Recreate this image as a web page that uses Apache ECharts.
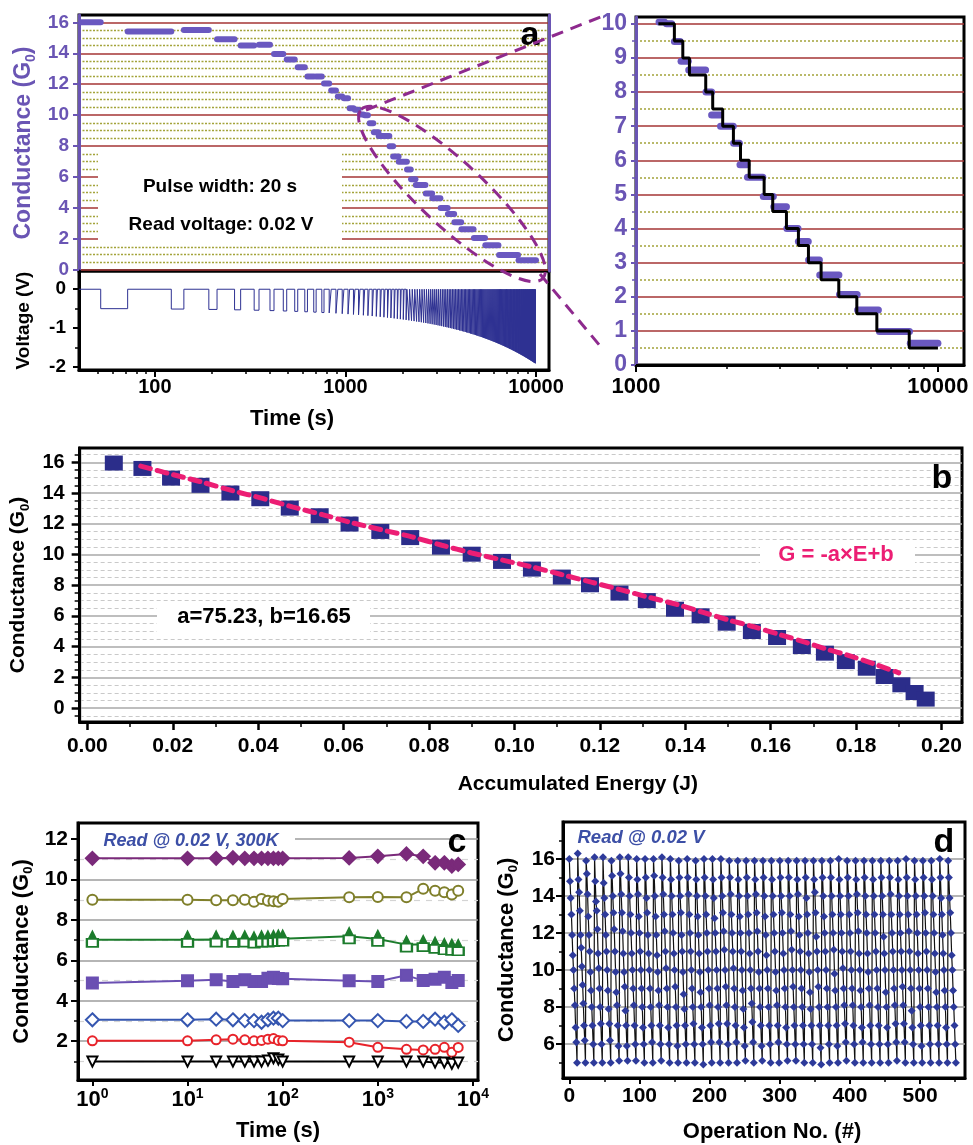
<!DOCTYPE html>
<html>
<head>
<meta charset="utf-8">
<title>Conductance figure</title>
<script src="https://cdn.jsdelivr.net/npm/echarts@6.0.0/dist/echarts.min.js"></script>
<style>
html,body{margin:0;padding:0;background:#ffffff;}
#chart{width:973px;height:1145px;}
</style>
</head>
<body>
<div id="chart"></div>
<script>
// ================= DATA =================
// Panel a: conductance read plateaus (time start, time end, conductance G0)
const aReadStart = [41,72,142,212,282,352,422,492,562,632,702,772,842,912,982,1052,1122,1192,1262,1340,1410,1495,1705,1780,1905,2105,2210,2340,2640,2860,3160,3450,3730,4060,4720,5420,6400,8100];
const aReadEnd   = [52,122,192,262,332,402,472,542,612,682,752,822,892,962,1032,1102,1172,1242,1312,1400,1490,1700,1780,1900,2100,2200,2330,2630,2850,3150,3440,3720,4050,4700,5400,6350,8050,10000];
const aReadG     = [16.0,15.4,15.5,14.9,14.5,14.55,13.95,13.6,13.1,12.5,12.5,12.05,11.6,11.2,11.1,10.45,10.35,10.05,10.0,9.48,8.9,8.65,8.0,7.33,7.0,6.5,5.87,5.5,4.94,4.64,4.0,3.62,3.08,2.64,2.07,1.61,0.98,0.64];

// Panel a (zoom): ideal staircase (time where level starts, level)
const stepT = [1186,1340,1429,1503,1702,1795,1937,2102,2219,2371,2657,2837,3150,3451,3725,4103,4695,5387,6276,8035,10000];
const stepG = [10,9.5,9,8.5,8,7.5,7,6.5,6,5.5,5,4.5,4,3.5,3,2.5,2,1.5,1,0.5,0.5];

// Panel a: voltage pulses (start time s, amplitude V), width 20 s
const pulseWidth = 20;
const pulseStart = [52,122,192,262,332,402,472,542,612,682,752,822,892,962,1032,1102,1172,1242,1312,1382,
1452,1522,1592,1662,1732,1802,1872,1942,2012,2082,2152,2222,2292,2362,2432,2502,2572,2642,2712,2782,
2852,2922,2992,3062,3132,3202,3272,3342,3412,3482,3552,3622,3692,3762,3832,3902,3972,4042,4112,4182,
4252,4322,4392,4462,4532,4602,4672,4742,4812,4882,4952,5022,5092,5162,5232,5302,5372,5442,5512,5582,
5652,5722,5792,5862,5932,6002,6072,6142,6212,6282,6352,6422,6492,6562,6632,6702,6772,6842,6912,6982,
7052,7122,7192,7262,7332,7402,7472,7542,7612,7682,7752,7822,7892,7962,8032,8102,8172,8242,8312,8382,
8452,8522,8592,8662,8732,8802,8872,8942,9012,9082,9152,9222,9292,9362,9432,9502,9572,9642,9712,9782,
9852,9922];
const pulseV = [-0.50,-0.51,-0.52,-0.53,-0.54,-0.55,-0.56,-0.57,-0.58,-0.59,
-0.60,-0.61,-0.62,-0.63,-0.64,-0.65,-0.66,-0.67,-0.68,-0.69,
-0.70,-0.71,-0.72,-0.73,-0.74,-0.75,-0.76,-0.77,-0.78,-0.79,
-0.80,-0.81,-0.82,-0.83,-0.84,-0.85,-0.86,-0.87,-0.88,-0.89,
-0.90,-0.91,-0.92,-0.93,-0.94,-0.95,-0.96,-0.97,-0.98,-0.99,
-1.00,-1.01,-1.02,-1.03,-1.04,-1.05,-1.06,-1.07,-1.08,-1.09,
-1.10,-1.11,-1.12,-1.13,-1.14,-1.15,-1.16,-1.17,-1.18,-1.19,
-1.20,-1.21,-1.22,-1.23,-1.24,-1.25,-1.26,-1.27,-1.28,-1.29,
-1.30,-1.31,-1.32,-1.33,-1.34,-1.35,-1.36,-1.37,-1.38,-1.39,
-1.40,-1.41,-1.42,-1.43,-1.44,-1.45,-1.46,-1.47,-1.48,-1.49,
-1.50,-1.51,-1.52,-1.53,-1.54,-1.55,-1.56,-1.57,-1.58,-1.59,
-1.60,-1.61,-1.62,-1.63,-1.64,-1.65,-1.66,-1.67,-1.68,-1.69,
-1.70,-1.71,-1.72,-1.73,-1.74,-1.75,-1.76,-1.77,-1.78,-1.79,
-1.80,-1.81,-1.82,-1.83,-1.84,-1.85,-1.86,-1.87,-1.88,-1.89,
-1.90,-1.91];

// Panel b: accumulated energy (J) vs conductance (G0)
const bE = [0.0062,0.0129,0.0196,0.0265,0.0335,0.0405,0.0474,0.0544,0.0614,0.0686,0.0756,0.0828,0.0900,0.0971,0.1041,0.1111,0.1177,0.1246,0.1310,0.1376,0.1436,0.1497,0.1556,0.1615,0.1673,0.1727,0.1776,0.1825,0.1867,0.1906,0.1937,0.1963];
const bG = [15.95,15.6,14.97,14.5,14.0,13.63,13.02,12.52,11.98,11.5,11.1,10.48,10.02,9.55,9.05,8.53,8.03,7.49,7.0,6.44,6.01,5.53,4.99,4.6,4.01,3.58,3.03,2.6,2.06,1.52,1.02,0.59];
const fitE = [0.0125,0.020,0.027,0.034,0.041,0.048,0.055,0.0615,0.069,0.076,0.083,0.090,0.097,0.104,0.111,0.118,0.125,0.131,0.138,0.144,0.150,0.156,0.162,0.168,0.173,0.178,0.184,0.190];
const fitG = [15.75,15.2,14.7,14.15,13.65,13.1,12.6,12.1,11.6,11.15,10.6,10.1,9.65,9.2,8.7,8.2,7.7,7.25,6.75,6.25,5.75,5.3,4.8,4.3,3.85,3.45,2.9,2.3];

// Panel c: retention
const cTime = [1,10,20,30,40,50,60,70,80,90,100,500,1000,2000,3000,4000,5000,6000,7000];
const cS1 = [11.05,11.05,11.05,11.08,11.05,11.05,11.05,11.05,11.05,11.05,11.05,11.07,11.15,11.27,11.15,10.83,10.83,10.67,10.75];
const cS2 = [9.0,9.0,8.98,8.98,9.0,8.9,9.04,8.95,8.93,8.9,9.04,9.12,9.14,9.12,9.54,9.45,9.37,9.26,9.45];
const cS3 = [7.02,7.02,7.03,7.02,7.03,6.98,7.03,7.03,7.05,7.07,7.07,7.19,7.06,6.78,6.8,6.72,6.65,6.62,6.6];
const cS4 = [4.88,4.99,5.04,4.96,5.04,4.96,4.96,5.12,5.16,5.1,5.09,4.99,4.96,5.26,5.0,5.07,5.16,4.91,5.0];
const cS5 = [3.06,3.06,3.09,3.06,3.02,3.02,2.94,3.06,3.14,3.14,3.02,3.02,3.02,2.98,2.98,3.09,2.94,3.06,2.78];
const cS6 = [2.02,2.02,2.07,2.1,2.07,2.02,2.04,2.1,2.13,2.04,2.02,1.95,1.7,1.6,1.57,1.6,1.7,1.45,1.69];
const cS7 = [0.99,0.99,0.99,0.99,0.99,0.99,0.99,1.05,1.16,1.1,0.99,0.99,0.99,0.99,0.99,0.94,0.94,0.88,0.94];

// Panel d: endurance cycles (each row = one sweep of 12 reads)
const dCycles = [
[16.0,14.8,13.9,13.0,11.9,10.8,10.0,9.0,8.1,6.9,6.1,5.0],
[16.3,14.9,14.2,13.2,11.9,11.2,10.2,9.2,8.2,7.0,6.2,5.0],
[15.9,15.2,14.1,12.9,11.9,11.0,9.9,8.9,8.0,7.0,6.0,5.0],
[16.1,14.8,13.7,13.2,12.2,10.9,10.1,9.0,8.0,7.1,6.0,5.0],
[16.1,14.7,13.9,13.0,11.9,11.0,10.0,8.9,7.9,7.1,6.2,5.0],
[15.9,15.1,14.0,13.1,12.2,11.0,9.9,8.8,8.1,7.0,5.9,5.1],
[16.1,15.2,14.1,13.1,12.1,10.9,9.9,9.1,7.8,7.0,5.9,5.1],
[16.1,15.0,14.0,13.0,12.0,10.9,10.0,9.0,8.1,7.0,6.0,5.1],
[16.0,14.9,14.1,12.9,12.0,11.0,10.0,9.0,8.0,6.9,6.0,5.0],
[16.0,15.0,13.9,13.1,11.9,10.9,10.0,9.0,8.0,7.0,6.1,5.0],
[16.0,15.1,14.0,12.9,11.9,10.8,9.9,8.9,8.1,7.0,6.0,5.1],
[16.1,15.0,14.1,13.0,12.1,11.0,10.1,9.0,8.0,6.9,6.0,5.0],
[16.0,14.9,14.0,13.0,12.0,10.9,10.0,9.1,8.0,7.0,5.9,5.0],
[15.9,15.0,14.0,13.1,11.9,11.0,9.9,8.7,7.9,7.0,6.0,5.0],
[16.0,15.0,14.1,13.0,12.0,11.0,10.0,9.0,8.0,7.1,6.0,5.0],
[15.9,14.9,14.0,12.9,11.9,10.9,9.9,8.8,8.0,6.9,6.0,4.9],
[16.0,15.0,14.0,13.0,12.0,11.0,10.0,9.0,8.1,7.0,6.1,5.0],
[16.0,14.9,13.9,12.8,12.0,11.0,10.0,9.0,8.0,7.1,6.1,5.0],
[16.0,15.0,14.0,13.1,12.1,11.1,10.0,9.1,8.1,7.1,6.0,5.0],
[15.9,15.0,14.1,13.0,12.0,11.0,10.1,9.0,8.0,7.0,6.1,5.0],
[15.9,14.9,14.0,12.9,12.0,11.0,10.0,8.9,7.9,6.9,5.9,5.1],
[15.9,15.0,14.0,13.0,12.0,10.9,10.0,9.0,8.2,7.2,6.1,5.0],
[15.9,14.9,14.1,13.1,12.1,11.0,9.9,9.0,8.0,7.0,5.9,5.1],
[15.9,15.0,14.0,12.9,11.9,10.8,10.0,9.0,8.0,7.0,6.0,5.0],
[15.9,14.9,14.0,13.0,12.0,11.0,9.9,8.9,8.1,7.0,6.1,5.0],
[15.9,15.0,14.0,13.1,12.0,10.9,10.0,9.0,8.0,6.9,6.0,5.1],
[15.9,15.0,14.0,13.0,12.1,11.1,10.0,9.1,8.0,7.0,6.0,5.1],
[15.9,14.9,14.1,12.9,11.9,11.0,10.0,9.0,8.0,7.0,6.0,5.0],
[15.9,15.0,13.9,13.0,12.0,10.9,9.9,8.8,7.9,7.0,6.0,5.0],
[15.9,14.9,14.2,13.1,11.8,11.0,10.0,9.1,8.0,7.0,5.8,4.9],
[15.9,15.0,14.0,12.9,12.0,11.0,10.0,9.0,8.0,7.0,6.0,5.0],
[15.9,15.0,14.0,13.0,12.0,11.1,9.8,8.9,8.0,7.0,5.9,5.0],
[16.0,14.9,14.0,13.0,12.0,11.0,10.1,9.0,8.1,7.1,6.1,5.1],
[15.9,15.0,14.0,13.0,12.0,11.0,10.0,9.0,8.1,7.0,6.0,5.0],
[15.9,14.9,14.1,13.1,12.1,10.9,10.0,8.9,8.0,6.9,6.1,5.0],
[15.9,15.0,14.0,13.0,12.0,10.9,9.9,9.0,8.1,7.0,6.0,5.0],
[15.9,14.9,14.0,13.0,12.0,11.0,10.0,9.0,8.0,7.0,6.0,5.0],
[15.9,15.0,14.0,13.0,11.8,10.9,10.0,8.8,8.0,6.9,6.0,5.0],
[15.9,15.0,14.1,13.0,12.0,11.0,10.0,9.0,8.1,7.1,6.1,5.1],
[15.9,14.9,14.0,13.0,12.0,11.0,10.0,9.1,8.1,7.1,6.1,5.0],
[16.0,15.0,14.0,13.0,12.1,11.0,10.0,9.0,7.8,6.9,6.0,5.0],
[15.9,14.9,14.0,13.0,12.0,10.9,10.0,9.0,8.0,7.0,5.9,5.0],
[15.9,15.0,14.0,13.1,12.0,11.0,10.0,9.0,8.0,7.0,6.0,5.0],
[15.9,14.9,14.0,13.0,12.0,10.9,9.9,8.8,8.0,7.0,6.0,5.0],
[16.0,15.0,13.9,13.0,11.9,10.9,10.0,8.9,8.0,6.9,6.0,5.0],
[15.9,15.0,13.9,13.1,12.0,10.8,10.0,8.9,8.0,7.0,6.0,5.0]
];

// Tick label values
const aTimeTicks = [100,1000,10000];
const aTimeMinor = [50,60,70,80,90,200,300,400,500,600,700,800,900,2000,3000,4000,5000,6000,7000,8000,9000];
const aCondTicks = [0,2,4,6,8,10,12,14,16];
const aCondMinor = [0.5,1,1.5,2.5,3,3.5,4.5,5,5.5,6.5,7,7.5,8.5,9,9.5,10.5,11,11.5,12.5,13,13.5,14.5,15,15.5];
const aVoltTicks = [-2,-1,0];
const aVoltMinor = [-1.5,-0.5];
const zTimeTicks = [1000,10000];
const zTimeMinor = [2000,3000,4000,5000,6000,7000,8000,9000];
const zCondTicks = [0,1,2,3,4,5,6,7,8,9,10];
const zCondMinor = [0.5,1.5,2.5,3.5,4.5,5.5,6.5,7.5,8.5,9.5];
const bETicks = [0,0.02,0.04,0.06,0.08,0.10,0.12,0.14,0.16,0.18,0.20];
const bEMinor = [0.01,0.03,0.05,0.07,0.09,0.11,0.13,0.15,0.17,0.19];
const bGTicks = [0,2,4,6,8,10,12,14,16];
const bGMinor = [-0.5,0.5,1,1.5,2.5,3,3.5,4.5,5,5.5,6.5,7,7.5,8.5,9,9.5,10.5,11,11.5,12.5,13,13.5,14.5,15,15.5,16.5];
const cTimeTicks = [1,10,100,1000,10000];
const cGTicks = [2,4,6,8,10,12];
const cGMinor = [1,3,5,7,9,11];
const dOpTicks = [0,100,200,300,400,500];
const dOpMinor = [50,150,250,350,450,550];
const dGTicks = [6,8,10,12,14,16];
const dGMinor = [5,7,9,11,13,15,17];

// ================= BUILD =================
const FONT = 'Liberation Sans';
const PURPLE = '#6a55b4';
const DOT = '#6a58c0';
const RED = '#a53535';
const OLIVE = '#a3a33a';

const aReads = aReadStart.map((s, i) => [s, aReadEnd[i], aReadG[i]]);
const zReads = aReads.filter(r => r[0] >= 1186);
const stepData = stepT.map((t, i) => [t, stepG[i]]);
const voltData = [[40, 0]];
pulseStart.forEach((s, i) => {
  voltData.push([s, 0], [s, pulseV[i]], [s + pulseWidth, pulseV[i]], [s + pulseWidth, 0]);
});
voltData.push([10000, 0]);
const bData = bE.map((e, i) => [e, bG[i]]);
const fitData = fitE.map((e, i) => [e, fitG[i]]);
const dData = [];
dCycles.forEach((row, k) => row.forEach((g, j) => dData.push([k * row.length + j, g])));

function lbl(size, color, extra) {
  return Object.assign({fontSize: size, fontWeight: 'bold', color: color, fontFamily: FONT}, extra || {});
}
function segRender(lw) {
  return function (params, api) {
    const p0 = api.coord([api.value(0), api.value(2)]);
    const p1 = api.coord([api.value(1), api.value(2)]);
    return {type: 'line', shape: {x1: p0[0], y1: p0[1], x2: p1[0], y2: p1[1]},
      style: {stroke: DOT, lineWidth: lw, lineCap: 'round'}};
  };
}
function condName(color, size) {
  return {
    name: '{m|Conductance (G}{s|0}{m|)}',
    nameLocation: 'middle',
    nameTextStyle: {rich: {
      m: {fontSize: size, fontWeight: 'bold', color: color, fontFamily: FONT, lineHeight: size + 5},
      s: {fontSize: Math.round(size * 0.6), fontWeight: 'bold', color: color, fontFamily: FONT, lineHeight: 12, verticalAlign: 'bottom'}
    }}
  };
}
function mainLine(color, width) {
  return {show: true, onZero: false, lineStyle: {color: color, width: width}};
}
function minorAxis(base, values, len, color, split) {
  return Object.assign({
    axisLine: {show: false, onZero: false},
    axisTick: {show: len > 0, customValues: values, length: len, lineStyle: {color: color, width: 1.5}},
    axisLabel: {show: false},
    splitLine: split ? Object.assign({show: true}, split) : {show: false}
  }, base);
}

const gridBase = {show: true, borderColor: '#000', borderWidth: 3};
const grids = [
  Object.assign({left: 79, top: 15, width: 470, height: 256}, gridBase),
  Object.assign({left: 79, top: 271, width: 470, height: 99}, gridBase),
  Object.assign({left: 636, top: 17, width: 328, height: 348}, gridBase),
  Object.assign({left: 79, top: 448, width: 883, height: 274}, gridBase),
  Object.assign({left: 78, top: 823, width: 400, height: 257}, gridBase),
  Object.assign({left: 563, top: 822, width: 402, height: 256}, gridBase)
];

const xAxes = [
  // 0 a-left conductance (hidden, shares time range)
  {type: 'log', gridIndex: 0, position: 'bottom', min: 40, max: 11700, show: false, axisLine: {onZero: false}},
  // 1 a-left time axis
  {type: 'log', gridIndex: 1, position: 'bottom', min: 40, max: 11700,
    axisLine: mainLine('#000', 3),
    axisTick: {show: true, customValues: aTimeTicks, length: 7, lineStyle: {color: '#000', width: 2}},
    axisLabel: Object.assign({customValues: aTimeTicks, margin: 7, formatter: v => String(Math.round(v))}, lbl(20, '#000')),
    splitLine: {show: false},
    name: 'Time (s)', nameLocation: 'middle', nameGap: 38,
    nameTextStyle: lbl(22, '#000', {padding: [0, 44, 0, 0]})},
  // 2 a-left time minor ticks
  minorAxis({type: 'log', gridIndex: 1, position: 'bottom', min: 40, max: 11700}, aTimeMinor, 4, '#000'),
  // 3 zoom panel time axis
  {type: 'log', gridIndex: 2, position: 'bottom', min: 1000, max: 12200,
    axisLine: mainLine('#000', 3),
    axisTick: {show: true, customValues: zTimeTicks, length: 7, lineStyle: {color: '#000', width: 2}},
    axisLabel: Object.assign({customValues: zTimeTicks, margin: 11, formatter: v => String(Math.round(v))}, lbl(22, '#000')),
    splitLine: {show: false}},
  // 4 zoom minor
  minorAxis({type: 'log', gridIndex: 2, position: 'bottom', min: 1000, max: 12200}, zTimeMinor, 4, '#000'),
  // 5 panel b energy axis
  {type: 'value', gridIndex: 3, position: 'bottom', min: -0.0018, max: 0.2048,
    axisLine: mainLine('#000', 3),
    axisTick: {show: true, customValues: bETicks, length: 8, lineStyle: {color: '#000', width: 2.5}},
    axisLabel: Object.assign({customValues: bETicks, margin: 14, formatter: v => v.toFixed(2)}, lbl(21, '#000')),
    splitLine: {show: false},
    name: 'Accumulated Energy (J)', nameLocation: 'middle', nameGap: 52,
    nameTextStyle: lbl(21, '#000', {padding: [0, 0, 0, 114]})},
  // 6 panel b minor
  minorAxis({type: 'value', gridIndex: 3, position: 'bottom', min: -0.0018, max: 0.2048}, bEMinor, 5, '#000'),
  // 7 panel c time
  {type: 'log', gridIndex: 4, position: 'bottom', min: 0.706, max: 11300,
    axisLine: mainLine('#000', 3),
    axisTick: {show: true, customValues: cTimeTicks, length: 6, lineStyle: {color: '#000', width: 2}},
    axisLabel: {customValues: cTimeTicks, margin: 7,
      formatter: v => '{b|10}{s|' + Math.round(Math.log10(v)) + '}',
      rich: {b: {fontSize: 22, fontWeight: 'bold', color: '#000', fontFamily: FONT, lineHeight: 26},
             s: {fontSize: 14, fontWeight: 'bold', color: '#000', fontFamily: FONT, lineHeight: 12, verticalAlign: 'top'}}},
    splitLine: {show: false},
    name: 'Time (s)', nameLocation: 'middle', nameGap: 40, nameTextStyle: lbl(22, '#000')},
  // 8 panel d operation
  {type: 'value', gridIndex: 5, position: 'bottom', min: -9, max: 564,
    axisLine: mainLine('#000', 3),
    axisTick: {show: true, customValues: dOpTicks, length: 6, lineStyle: {color: '#000', width: 2}},
    axisLabel: Object.assign({customValues: dOpTicks, margin: 8}, lbl(21, '#000')),
    splitLine: {show: false},
    name: 'Operation No. (#)', nameLocation: 'middle', nameGap: 43,
    nameTextStyle: lbl(22, '#000', {padding: [0, 0, 0, 16]})},
  // 9 panel d minor
  minorAxis({type: 'value', gridIndex: 5, position: 'bottom', min: -9, max: 564}, dOpMinor, 4, '#000')
];

const yAxes = [
  // 0 a-left conductance
  Object.assign({type: 'value', gridIndex: 0, position: 'left', min: -0.06, max: 16.47,
    axisLine: mainLine(PURPLE, 3),
    axisTick: {show: true, customValues: aCondTicks, length: 6, lineStyle: {color: PURPLE, width: 2}},
    axisLabel: Object.assign({customValues: aCondTicks, margin: 10}, lbl(19, PURPLE)),
    splitLine: {show: true, lineStyle: {color: RED, width: 1.5}},
    nameGap: 41}, condName(PURPLE, 23)),
  // 1 a-left minor (dotted olive grid)
  minorAxis({type: 'value', gridIndex: 0, position: 'left', min: -0.06, max: 16.47}, aCondMinor, 0, PURPLE,
    {lineStyle: {color: OLIVE, width: 1.3, type: [2, 1.5]}}),
  // 2 a-left right border (purple)
  {type: 'value', gridIndex: 0, position: 'right', min: -0.06, max: 16.47,
    axisLine: mainLine(PURPLE, 3),
    axisTick: {show: false}, axisLabel: {show: false}, splitLine: {show: false}},
  // 3 voltage
  {type: 'value', gridIndex: 1, position: 'left', min: -2.08, max: 0.47,
    axisLine: mainLine('#000', 3),
    axisTick: {show: true, customValues: aVoltTicks, length: 6, lineStyle: {color: '#000', width: 2}},
    axisLabel: Object.assign({customValues: aVoltTicks, margin: 13, formatter: v => String(v)}, lbl(19, '#000')),
    splitLine: {show: false},
    name: 'Voltage (V)', nameLocation: 'middle', nameGap: 43, nameTextStyle: lbl(19, '#000', {lineHeight: 24})},
  // 4 voltage minor
  minorAxis({type: 'value', gridIndex: 1, position: 'left', min: -2.08, max: 0.47}, aVoltMinor, 4, '#000'),
  // 5 zoom conductance
  {type: 'value', gridIndex: 2, position: 'left', min: 0, max: 10.2,
    axisLine: mainLine(PURPLE, 3),
    axisTick: {show: true, customValues: zCondTicks, length: 5, lineStyle: {color: PURPLE, width: 2}},
    axisLabel: Object.assign({customValues: zCondTicks, margin: 9}, lbl(23, PURPLE)),
    splitLine: {show: true, lineStyle: {color: RED, width: 1.5}}},
  // 6 zoom minor
  minorAxis({type: 'value', gridIndex: 2, position: 'left', min: 0, max: 10.2}, zCondMinor, 4, PURPLE,
    {lineStyle: {color: OLIVE, width: 1.5, type: [2, 2]}}),
  // 7 panel b conductance
  Object.assign({type: 'value', gridIndex: 3, position: 'left', min: -0.9, max: 16.93,
    axisLine: mainLine('#000', 3),
    axisTick: {show: true, customValues: bGTicks, length: 8, lineStyle: {color: '#000', width: 2.5}},
    axisLabel: Object.assign({customValues: bGTicks, margin: 15}, lbl(20, '#000')),
    splitLine: {show: true, lineStyle: {color: '#a9a9a9', width: 1.5}},
    nameGap: 46}, condName('#000', 21)),
  // 8 panel b minor
  minorAxis({type: 'value', gridIndex: 3, position: 'left', min: -0.9, max: 16.93}, bGMinor, 5, '#000',
    {lineStyle: {color: '#c9c9c9', width: 1.2, type: [4, 3]}}),
  // 9 panel c conductance
  Object.assign({type: 'value', gridIndex: 4, position: 'left', min: 0.08, max: 12.8,
    axisLine: mainLine('#000', 3),
    axisTick: {show: true, customValues: cGTicks, length: 7, lineStyle: {color: '#000', width: 2}},
    axisLabel: Object.assign({customValues: cGTicks, margin: 10}, lbl(21, '#000')),
    splitLine: {show: true, lineStyle: {color: '#9d9d9d', width: 1.5}},
    nameGap: 43}, condName('#000', 22)),
  // 10 panel c minor
  minorAxis({type: 'value', gridIndex: 4, position: 'left', min: 0.08, max: 12.8}, cGMinor, 4, '#000',
    {lineStyle: {color: '#d4d4d4', width: 1.2, type: [6, 6]}}),
  // 11 panel d conductance
  Object.assign({type: 'value', gridIndex: 5, position: 'left', min: 4.17, max: 18.0,
    axisLine: mainLine('#000', 3),
    axisTick: {show: true, customValues: dGTicks, length: 7, lineStyle: {color: '#000', width: 2}},
    axisLabel: Object.assign({customValues: dGTicks, margin: 8}, lbl(21, '#000')),
    splitLine: {show: true, lineStyle: {color: '#9d9d9d', width: 1.5}},
    nameGap: 43}, condName('#000', 22)),
  // 12 panel d minor
  minorAxis({type: 'value', gridIndex: 5, position: 'left', min: 4.17, max: 18.0}, dGMinor, 4, '#000')
];

function cSeries(vals, symbol, size, color, extra) {
  return Object.assign({
    type: 'line', xAxisIndex: 7, yAxisIndex: 9,
    data: cTime.map((t, i) => [t, vals[i]]),
    symbol: symbol, symbolSize: size,
    lineStyle: {color: color, width: 2},
    itemStyle: {color: color, borderColor: color, borderWidth: 2, opacity: 1},
    z: 3
  }, extra || {});
}

const series = [
  {type: 'custom', xAxisIndex: 0, yAxisIndex: 0, renderItem: segRender(6), encode: {x: [0, 1], y: 2}, data: aReads, clip: true, z: 3},
  {type: 'line', xAxisIndex: 1, yAxisIndex: 3, data: voltData, symbol: 'none', lineStyle: {color: '#2e3192', width: 1}, z: 3},
  {type: 'custom', xAxisIndex: 3, yAxisIndex: 5, renderItem: segRender(7), encode: {x: [0, 1], y: 2}, data: zReads, clip: true, z: 3},
  {type: 'line', xAxisIndex: 3, yAxisIndex: 5, step: 'end', data: stepData, symbol: 'none', lineStyle: {color: '#000', width: 3}, z: 4},
  {type: 'scatter', xAxisIndex: 5, yAxisIndex: 7, data: bData, symbol: 'rect', symbolSize: [18, 15], itemStyle: {color: '#2b2d8a', opacity: 1}, z: 3},
  {type: 'line', xAxisIndex: 5, yAxisIndex: 7, data: fitData, symbol: 'none', smooth: 0.3,
    lineStyle: {color: '#ec1e74', width: 5, type: [10, 7], cap: 'round'}, z: 4},
  cSeries(cS1, 'diamond', 13, '#7a2a7a'),
  cSeries(cS2, 'emptyCircle', 10, '#7f7f2a'),
  cSeries(cS3, 'triangle', 10, '#1c7c2c', {symbolOffset: [0, -3]}),
  cSeries(cS3, 'emptyRect', [11, 8], '#1c7c2c', {symbolOffset: [0, 3], lineStyle: {width: 0}}),
  cSeries(cS4, 'rect', 11, '#6a4fb2'),
  cSeries(cS5, 'emptyDiamond', 13, '#3556b0'),
  cSeries(cS6, 'emptyCircle', 9, '#e8232a', {itemStyle: {color: '#e8232a', borderColor: '#e8232a', borderWidth: 3}}),
  cSeries(cS7, 'emptyTriangle', 10, '#000', {symbolRotate: 180}),
  {type: 'line', xAxisIndex: 8, yAxisIndex: 11, data: dData, symbol: 'diamond', symbolSize: 8,
    lineStyle: {color: '#111111', width: 1.2}, itemStyle: {color: '#2d3a9a', opacity: 1}, z: 3}
];

function gtext(t, x, y, size, color, italic) {
  return {type: 'text', x: x, y: y, z: 60,
    style: {text: t, fill: color, font: (italic ? 'italic ' : '') + 'bold ' + size + 'px "Liberation Sans"',
      textAlign: 'center', textVerticalAlign: 'middle', align: 'center', verticalAlign: 'middle'}};
}
function wrect(x, y, w, h) {
  return {type: 'rect', shape: {x: x, y: y, width: w, height: h}, style: {fill: '#ffffff'}, z: 1};
}
const dashStyle = {stroke: '#8e2a8e', lineWidth: 3, lineDash: [12, 8], fill: 'none'};

const graphics = [
  wrect(98, 153, 244, 92),
  gtext('Pulse width: 20 s', 220, 187, 19, '#000'),
  gtext('Read voltage: 0.02 V', 221, 225, 19, '#000'),
  gtext('a', 530, 36, 34, '#000'),
  {type: 'ellipse', x: 452, y: 194, rotation: -0.749, shape: {cx: 0, cy: 0, rx: 124, ry: 32}, style: dashStyle, z: 100},
  {type: 'line', shape: {x1: 366, y1: 110, x2: 603, y2: 16}, style: dashStyle, z: 100},
  {type: 'line', shape: {x1: 540, y1: 274, x2: 601, y2: 347}, style: dashStyle, z: 100},
  wrect(157, 601, 213, 31),
  gtext('a=75.23, b=16.65', 264, 617, 22, '#000'),
  wrect(760, 540, 155, 30),
  gtext('G = -a\u00d7E+b', 836, 555, 22, '#ec1e74'),
  gtext('b', 942, 479, 34, '#000'),
  wrect(80, 829, 215, 23),
  gtext('Read @ 0.02 V, 300K', 191, 841, 18, '#3c4fa6', true),
  gtext('c', 457, 843, 34, '#000'),
  gtext('Read @ 0.02 V', 641, 838, 18.5, '#3c4fa6', true),
  gtext('d', 944, 843, 34, '#000')
];

const chart = echarts.init(document.getElementById('chart'), null, {renderer: 'canvas'});
chart.setOption({
  animation: false,
  backgroundColor: '#ffffff',
  textStyle: {fontFamily: FONT},
  grid: grids,
  xAxis: xAxes,
  yAxis: yAxes,
  series: series,
  graphic: {elements: graphics}
});
</script>
</body>
</html>
